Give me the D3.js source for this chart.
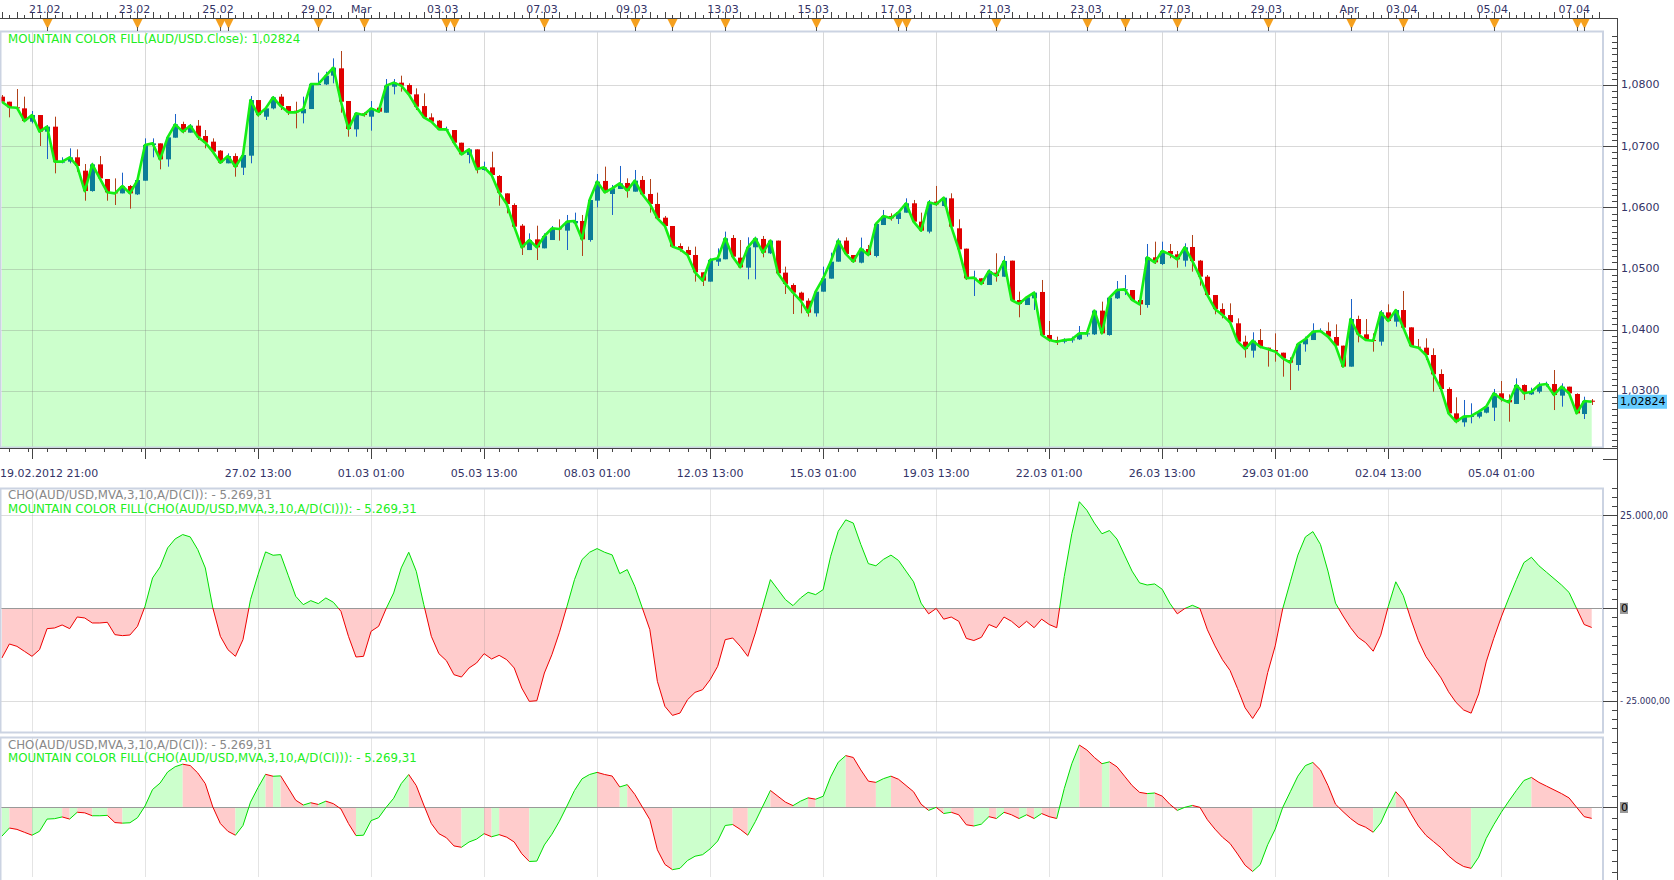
<!DOCTYPE html>
<html><head><meta charset="utf-8">
<script src="https://cdn.jsdelivr.net/npm/d3@7"></script>
<style>
body{margin:0;background:#fff;overflow:hidden;}
svg{display:block;font-family:"DejaVu Sans",Verdana,sans-serif;}
</style></head>
<body><svg id="c" width="1674" height="880"></svg>
<script>
// ---------------- DATA (AUD/USD, 4h bars) ----------------
const opens=[1.07809,1.07727,1.07635,1.07618,1.07400,1.07509,1.07237,1.07319,1.06747,1.06747,
1.06818,1.06600,1.06267,1.06703,1.06464,1.06246,1.06229,1.06349,1.06213,1.06436,
1.07019,1.07046,1.06785,1.07139,1.07362,1.07221,1.07335,1.07166,1.07074,1.06927,
1.06720,1.06839,1.06649,1.06845,1.07754,1.07482,1.07618,1.07809,1.07656,1.07580,
1.07537,1.07607,1.08016,1.08010,1.08152,1.08272,1.07738,1.07275,1.07537,1.07482,
1.07629,1.07547,1.07972,1.08038,1.07999,1.07847,1.07656,1.07471,1.07417,1.07275,
1.07264,1.07057,1.06856,1.06948,1.06611,1.06654,1.06513,1.06229,1.06039,1.05701,
1.05303,1.05478,1.05331,1.05467,1.05658,1.05620,1.05740,1.05778,1.05467,1.06110,
1.06432,1.06219,1.06301,1.06399,1.06257,1.06448,1.06219,1.06056,1.05832,1.05696,
1.05369,1.05304,1.05222,1.04939,1.04787,1.05113,1.05152,1.05500,1.05179,1.05015,
1.05348,1.05484,1.05250,1.05457,1.04934,1.04732,1.04607,1.04476,1.04269,1.04623,
1.04836,1.05113,1.05457,1.05222,1.05097,1.05320,1.05206,1.05712,1.05860,1.05811,
1.05914,1.06067,1.05767,1.05604,1.06094,1.06023,1.06148,1.05658,1.05326,1.04841,
1.04841,1.04732,1.04934,1.04868,1.05130,1.04487,1.04405,1.04514,1.04618,1.03915,
1.03833,1.03806,1.03833,1.03844,1.03942,1.03926,1.04313,1.03915,1.04514,1.04650,
1.04650,1.04487,1.04405,1.05184,1.05075,1.05287,1.05233,1.05130,1.05353,1.05130,
1.04868,1.04568,1.04340,1.04241,1.04106,1.03806,1.03659,1.03833,1.03708,1.03670,
1.03626,1.03507,1.03425,1.03763,1.03833,1.03970,1.03980,1.03882,1.03741,1.03398,
1.04176,1.03926,1.03833,1.03806,1.04285,1.04133,1.04323,1.04040,1.03724,1.03708,
1.03588,1.03278,1.03033,1.02635,1.02488,1.02581,1.02581,1.02646,1.02728,1.02962,
1.02853,1.02788,1.03098,1.02945,1.02989,1.03098,1.03114,1.02924,1.03071,1.02951,
1.02624,1.02842];
const highs=[1.07836,1.07727,1.07934,1.07809,1.07575,1.07509,1.07346,1.07482,1.06818,1.06965,
1.06948,1.06709,1.06730,1.06839,1.06464,1.06474,1.06567,1.06366,1.06458,1.07128,
1.07128,1.07046,1.07144,1.07526,1.07400,1.07362,1.07428,1.07264,1.07128,1.06937,
1.06883,1.06883,1.06856,1.07820,1.07754,1.07618,1.07820,1.07852,1.07656,1.07727,
1.07809,1.08016,1.08201,1.08217,1.08435,1.08555,1.07738,1.07547,1.07553,1.07738,
1.07629,1.08097,1.08097,1.08152,1.08027,1.07945,1.07863,1.07537,1.07428,1.07319,
1.07264,1.07057,1.06965,1.06948,1.06747,1.06910,1.06529,1.06229,1.06066,1.05728,
1.05576,1.05701,1.05576,1.05696,1.05805,1.05876,1.05914,1.05876,1.06132,1.06546,
1.06666,1.06366,1.06677,1.06475,1.06611,1.06513,1.06464,1.06241,1.05860,1.05696,
1.05413,1.05359,1.05359,1.04939,1.05168,1.05331,1.05604,1.05549,1.05467,1.05511,
1.05522,1.05533,1.05467,1.05457,1.05032,1.04759,1.04623,1.04514,1.04650,1.05032,
1.05260,1.05495,1.05511,1.05222,1.05506,1.05386,1.05729,1.05958,1.05903,1.05930,
1.06148,1.06121,1.05914,1.06121,1.06350,1.06148,1.06230,1.05805,1.05326,1.04966,
1.04841,1.04988,1.05250,1.05206,1.05130,1.04623,1.04542,1.04623,1.04814,1.04144,
1.03888,1.03861,1.03888,1.04062,1.03997,1.04313,1.04460,1.04541,1.04797,1.04895,
1.04650,1.04487,1.05402,1.05440,1.05440,1.05402,1.05287,1.05413,1.05549,1.05141,
1.04895,1.04568,1.04432,1.04432,1.04187,1.03904,1.03959,1.04013,1.03708,1.03942,
1.03626,1.03550,1.03779,1.03888,1.04106,1.04024,1.04122,1.04089,1.03741,1.04503,
1.04231,1.04176,1.03942,1.04323,1.04416,1.04323,1.04634,1.04040,1.03850,1.03861,
1.03697,1.03354,1.03060,1.02897,1.02853,1.02799,1.02690,1.02744,1.03033,1.03163,
1.02945,1.03207,1.03109,1.03054,1.03142,1.03152,1.03343,1.03125,1.03071,1.02962,
1.02907,1.02869];
const lows=[1.07727,1.07471,1.07618,1.07400,1.07373,1.07003,1.06790,1.06556,1.06720,1.06720,
1.06583,1.06109,1.06257,1.06447,1.06109,1.06039,1.06229,1.05979,1.06202,1.06436,
1.06818,1.06622,1.06665,1.07139,1.07210,1.07221,1.07101,1.06965,1.06883,1.06720,
1.06720,1.06502,1.06529,1.06720,1.07482,1.07428,1.07602,1.07591,1.07509,1.07291,
1.07373,1.07607,1.07999,1.07999,1.08027,1.07547,1.07155,1.07155,1.07482,1.07253,
1.07547,1.07547,1.07847,1.07891,1.07836,1.07591,1.07455,1.07400,1.07264,1.07253,
1.07046,1.06856,1.06720,1.06556,1.06600,1.06513,1.06028,1.05903,1.05685,1.05222,
1.05303,1.05140,1.05331,1.05467,1.05457,1.05304,1.05729,1.05206,1.05440,1.06001,
1.06230,1.05876,1.06301,1.06159,1.06257,1.06203,1.05914,1.05794,1.05685,1.05348,
1.05277,1.05206,1.04787,1.04716,1.04787,1.05043,1.05152,1.05168,1.05021,1.04825,
1.04825,1.05184,1.05239,1.04912,1.04585,1.04258,1.04269,1.04215,1.04215,1.04623,
1.04836,1.05113,1.05206,1.05097,1.05086,1.05206,1.05184,1.05712,1.05783,1.05729,
1.05914,1.05751,1.05604,1.05576,1.06023,1.06012,1.05658,1.05304,1.04814,1.04552,
1.04732,1.04732,1.04787,1.04868,1.04471,1.04204,1.04405,1.04324,1.03915,1.03806,
1.03752,1.03779,1.03790,1.03833,1.03888,1.03915,1.03932,1.03904,1.04503,1.04568,
1.04470,1.04241,1.04361,1.05075,1.05059,1.05168,1.05015,1.05032,1.04950,1.04721,
1.04558,1.04253,1.04187,1.04106,1.03795,1.03545,1.03545,1.03697,1.03398,1.03479,
1.03234,1.03016,1.03332,1.03643,1.03833,1.03959,1.03861,1.03724,1.03398,1.03398,
1.03795,1.03833,1.03643,1.03741,1.04133,1.04051,1.04035,1.03724,1.03708,1.03507,
1.02989,1.03033,1.02635,1.02472,1.02417,1.02472,1.02553,1.02635,1.02510,1.02826,
1.02499,1.02788,1.02853,1.02935,1.02962,1.03071,1.02689,1.02744,1.02935,1.02624,
1.02542,1.02771];
const closes=[1.07727,1.07635,1.07629,1.07411,1.07509,1.07237,1.07319,1.06747,1.06747,1.06818,
1.06676,1.06267,1.06703,1.06474,1.06246,1.06229,1.06349,1.06229,1.06447,1.07019,
1.07046,1.06785,1.07144,1.07357,1.07237,1.07335,1.07155,1.07057,1.06910,1.06730,
1.06839,1.06665,1.06856,1.07754,1.07509,1.07618,1.07798,1.07656,1.07553,1.07553,
1.07607,1.08016,1.08016,1.08152,1.08283,1.07727,1.07281,1.07537,1.07509,1.07618,
1.07564,1.07989,1.08038,1.07989,1.07847,1.07645,1.07471,1.07400,1.07275,1.07275,
1.07057,1.06867,1.06948,1.06622,1.06654,1.06529,1.06240,1.06055,1.05685,1.05347,
1.05467,1.05347,1.05532,1.05658,1.05647,1.05767,1.05778,1.05478,1.06121,1.06421,
1.06246,1.06312,1.06393,1.06274,1.06437,1.06214,1.06056,1.05821,1.05696,1.05359,
1.05315,1.05222,1.04939,1.04803,1.05141,1.05168,1.05495,1.05195,1.05021,1.05348,
1.05495,1.05260,1.05457,1.04923,1.04749,1.04607,1.04476,1.04280,1.04623,1.04841,
1.05113,1.05457,1.05239,1.05113,1.05326,1.05222,1.05729,1.05860,1.05821,1.05919,
1.06067,1.05767,1.05620,1.06083,1.06050,1.06159,1.05685,1.05315,1.04841,1.04852,
1.04749,1.04961,1.04879,1.05124,1.04487,1.04422,1.04531,1.04607,1.03915,1.03833,
1.03806,1.03833,1.03844,1.03942,1.03942,1.04313,1.03942,1.04525,1.04650,1.04661,
1.04487,1.04416,1.05184,1.05102,1.05287,1.05233,1.05151,1.05348,1.05124,1.04868,
1.04568,1.04340,1.04241,1.04122,1.03806,1.03686,1.03822,1.03724,1.03686,1.03643,
1.03534,1.03463,1.03768,1.03850,1.03970,1.03980,1.03888,1.03741,1.03398,1.04176,
1.03926,1.03833,1.03822,1.04285,1.04144,1.04323,1.04035,1.03735,1.03708,1.03588,
1.03272,1.03033,1.02635,1.02499,1.02581,1.02592,1.02662,1.02744,1.02962,1.02869,
1.02815,1.03098,1.02962,1.02989,1.03098,1.03114,1.02935,1.03071,1.02962,1.02635,
1.02837,1.02824];
// Chaikin oscillator CHO(MVA,3,10,A/D(CI))
const cho=[-13515,-9731,-10362,-11713,-13065,-11263,-5586,-5406,-4595,-5586,
-2433,-2703,-4055,-4055,-3874,-7208,-7478,-7298,-4956,451,
8109,11082,16218,18651,19822,19191,15768,10812,0,-7659,
-11263,-13065,-8560,2253,9010,15137,14236,14416,8830,3154,
901,1982,1171,2703,1532,-901,-7659,-13245,-13065,-6307,
-4956,-180,4055,10812,15047,9911,901,-7659,-12344,-14236,
-18020,-18651,-16218,-14867,-12344,-13785,-12794,-13966,-16218,-21624,
-25228,-25048,-17570,-12614,-6577,451,7659,13065,15047,16038,
15047,14326,9280,10362,5857,0,-5857,-19822,-26580,-29012,
-28382,-24778,-22795,-22075,-19372,-15768,-8560,-8109,-10362,-13065,
-6758,451,7659,4956,2253,631,2703,4235,3604,4956,
13966,20723,23793,22928,17160,11969,11392,13122,14276,12834,
9950,7066,1298,-1586,-144,-3028,-2451,-3605,-8219,-8796,
-7931,-4470,-5335,-2451,-3605,-5335,-3605,-5335,-3028,-4470,
-5335,8508,20044,28696,26389,22928,20044,20909,18602,14276,
9950,6777,6201,6489,5047,1298,-1586,-144,721,-144,
-5912,-10238,-13987,-16871,-21774,-26965,-29849,-26677,-17448,-10238,
-144,7066,14276,19179,20621,17160,9950,1298,-2163,-5335,
-7931,-9373,-11680,-7354,433,7066,3317,-3028,-8796,-13122,
-16006,-18890,-22639,-25523,-27542,-28407,-23216,-14564,-8219,-2451,
2740,7643,12257,13699,11392,9661,7931,6201,4182,-144,
-4470,-5269.31];

// axis labels (positions given as bar index)
const topLabels=["21.02","23.02","25.02","29.02","Mar","03.03","07.03","09.03","13.03","15.03","17.03","21.03","23.03","27.03","29.03","Apr","03.04","05.04","07.04"];
const topLabelIdx=[5.7,17.6,28.7,41.8,47.7,58.5,71.7,83.6,95.7,107.7,118.7,131.8,143.9,155.7,167.8,178.8,185.8,197.8,208.7];
const markerIdx=[6,18,29,30,42,48,59,60,72,84,89,96,108,119,120,132,144,149,156,168,179,186,198,209,210];
const bottomLabels=["27.02 13:00","01.03 01:00","05.03 13:00","08.03 01:00","12.03 13:00","15.03 01:00","19.03 13:00","22.03 01:00","26.03 13:00","29.03 01:00","02.04 13:00","05.04 01:00"];
const bottomLabelIdx=[34,49,64,79,94,109,124,139,154,169,184,199];
const firstLabel="19.02.2012 21:00";
const priceTicks=[1.03,1.04,1.05,1.06,1.07,1.08];
const choTickVals=[25000,0,-25000];
const choTickLabels=["25.000,00","0","- 25.000,00"];
const legendMain="MOUNTAIN COLOR FILL(AUD/USD.Close): 1,02824";
const legendCho1="CHO(AUD/USD,MVA,3,10,A/D(CI)): - 5.269,31";
const legendCho2="MOUNTAIN COLOR FILL(CHO(AUD/USD,MVA,3,10,A/D(CI))): - 5.269,31";
const lastPriceLabel="1,02824";

// ---------------- LAYOUT ----------------
const svg=d3.select('#c');
const N=closes.length;
const plotR=1603, axisX=1617;
const x=d3.scaleLinear().domain([0,N-1]).range([1.86,1591.7]);
const M={top:31,bottom:447}, P1={top:488,bottom:732}, P2={top:737,bottom:877};
const yP=d3.scaleLinear().domain([1.02085,1.08882]).range([M.bottom,M.top]);
const y1=d3.scaleLinear().domain([-33500,32400]).range([P1.bottom,P1.top]);
const y2=d3.scaleLinear().domain([-32410,32410]).range([P2.bottom,P2.top]);
const gridIdx=d3.range(4,N,15);
const txtCol="#333366";
const legFS=11.8;
const defs=svg.append('defs');
function clip(id,y0,y1_){defs.append('clipPath').attr('id',id).append('rect').attr('x',0).attr('y',y0).attr('width',plotR).attr('height',y1_-y0);}
clip('cm',M.top,M.bottom);clip('c1',P1.top,P1.bottom);clip('c2',P2.top,P2.bottom);
clip('c1u',P1.top,y1(0));clip('c1d',y1(0),P1.bottom);

svg.append('rect').attr('width',1674).attr('height',880).attr('fill','#fff');

// ---------- MAIN PANEL ----------
const gm=svg.append('g').attr('clip-path','url(#cm)');
gm.append('path').datum(closes)
  .attr('d',d3.area().x((d,i)=>x(i)).y0(M.bottom).y1(d=>yP(d)))
  .attr('fill','#ccffcc');
gm.selectAll('.hg').data(priceTicks).join('line')
  .attr('x1',0).attr('x2',plotR).attr('y1',d=>Math.round(yP(d))+0.5).attr('y2',d=>Math.round(yP(d))+0.5)
  .attr('stroke','rgba(120,120,120,0.28)');
gm.selectAll('.vg').data(gridIdx).join('line')
  .attr('x1',d=>Math.round(x(d))+0.5).attr('x2',d=>Math.round(x(d))+0.5).attr('y1',M.top).attr('y2',M.bottom)
  .attr('stroke','rgba(120,120,120,0.28)');
const bars=d3.range(N);
gm.selectAll('.wk').data(bars).join('line')
  .attr('x1',i=>Math.round(x(i))+0.5).attr('x2',i=>Math.round(x(i))+0.5)
  .attr('y1',i=>yP(highs[i])).attr('y2',i=>yP(lows[i]))
  .attr('stroke',i=>closes[i]>=opens[i]?'#1a62c8':'#b0421a').attr('stroke-width',1);
gm.selectAll('.bd').data(bars).join('rect')
  .attr('x',i=>Math.round(x(i))-2).attr('width',5)
  .attr('y',i=>yP(Math.max(opens[i],closes[i])))
  .attr('height',i=>Math.max(1,yP(Math.min(opens[i],closes[i]))-yP(Math.max(opens[i],closes[i]))))
  .attr('fill',i=>closes[i]>=opens[i]?'#0b7d98':'#e00000');
gm.append('path').datum(closes)
  .attr('d',d3.line().x((d,i)=>x(i)).y(d=>yP(d)))
  .attr('fill','none').attr('stroke','#14ee14').attr('stroke-width',2.6).attr('stroke-linejoin','round');
svg.append('text').attr('x',8).attr('y',39).attr('dominant-baseline','central')
  .attr('font-size',legFS).attr('fill','#22ee22').text(legendMain);

// ---------- PANEL 1 ----------
const g1=svg.append('g').attr('clip-path','url(#c1)');
const area1=d3.area().x((d,i)=>x(i)).y0(y1(0)).y1(d=>y1(d));
const line1=d3.line().x((d,i)=>x(i)).y(d=>y1(d));
g1.append('path').datum(cho).attr('d',area1).attr('fill','#ccffcc').attr('clip-path','url(#c1u)');
g1.append('path').datum(cho).attr('d',area1).attr('fill','#ffcccc').attr('clip-path','url(#c1d)');
g1.selectAll('.vg').data(gridIdx).join('line')
  .attr('x1',d=>Math.round(x(d))+0.5).attr('x2',d=>Math.round(x(d))+0.5).attr('y1',P1.top).attr('y2',P1.bottom)
  .attr('stroke','rgba(120,120,120,0.2)');
g1.selectAll('.hg').data([25000,-25000]).join('line')
  .attr('x1',0).attr('x2',plotR).attr('y1',d=>Math.round(y1(d))+0.5).attr('y2',d=>Math.round(y1(d))+0.5)
  .attr('stroke','rgba(120,120,120,0.25)');
g1.append('line').attr('x1',0).attr('x2',plotR).attr('y1',Math.round(y1(0))+0.5).attr('y2',Math.round(y1(0))+0.5).attr('stroke','#999');
g1.append('path').datum(cho).attr('d',line1).attr('fill','none').attr('stroke','#00dd00').attr('clip-path','url(#c1u)');
g1.append('path').datum(cho).attr('d',line1).attr('fill','none').attr('stroke','#ee0000').attr('clip-path','url(#c1d)');
svg.append('text').attr('x',8).attr('y',495).attr('dominant-baseline','central').attr('font-size',legFS).attr('fill','#888').text(legendCho1);
svg.append('text').attr('x',8).attr('y',509).attr('dominant-baseline','central').attr('font-size',legFS).attr('fill','#22ee22').text(legendCho2);

// ---------- PANEL 2 ----------
const g2=svg.append('g').attr('clip-path','url(#c2)');
const z2=y2(0);
const runs=[];
for(let i=0;i<N-1;i++){
  const up=cho[i+1]>=cho[i];
  if(runs.length&&runs[runs.length-1].up===up) runs[runs.length-1].end=i+1;
  else runs.push({up:up,start:i,end:i+1});
}
const area2=d3.area().x(i=>x(i)).y0(z2).y1(i=>y2(cho[i]));
const line2=d3.line().x(i=>x(i)).y(i=>y2(cho[i]));
runs.forEach(r=>{
  g2.append('path').attr('d',area2(d3.range(r.start,r.end+1))).attr('fill',r.up?'#ccffcc':'#ffcccc');
});
g2.selectAll('.vg').data(gridIdx).join('line')
  .attr('x1',d=>Math.round(x(d))+0.5).attr('x2',d=>Math.round(x(d))+0.5).attr('y1',P2.top).attr('y2',P2.bottom)
  .attr('stroke','rgba(120,120,120,0.2)');
g2.append('line').attr('x1',0).attr('x2',plotR).attr('y1',Math.round(z2)+0.5).attr('y2',Math.round(z2)+0.5).attr('stroke','#999');
runs.forEach(r=>{
  g2.append('path').attr('d',line2(d3.range(r.start,r.end+1))).attr('fill','none').attr('stroke',r.up?'#00dd00':'#ee0000');
});
svg.append('text').attr('x',8).attr('y',745).attr('dominant-baseline','central').attr('font-size',legFS).attr('fill','#888').text(legendCho1);
svg.append('text').attr('x',8).attr('y',758).attr('dominant-baseline','central').attr('font-size',legFS).attr('fill','#22ee22').text(legendCho2);

// ---------- PANEL BORDERS ----------
[[M.top,M.bottom],[P1.top,P1.bottom],[P2.top,P2.bottom+6]].forEach(p=>{
  svg.append('rect').attr('x',0.5).attr('y',p[0]+0.5).attr('width',plotR-0.5).attr('height',p[1]-p[0])
    .attr('fill','none').attr('stroke','#cbd3e2').attr('stroke-width',2);
});

// ---------- TOP AXIS ----------
const ax=svg.append('g').attr('stroke','#444').attr('shape-rendering','crispEdges');
ax.append('line').attr('x1',0).attr('x2',axisX).attr('y1',18.5).attr('y2',18.5);
ax.selectAll('.tt').data(d3.range(0,N+1)).join('line')
  .attr('x1',i=>Math.round(x(i))+0.5).attr('x2',i=>Math.round(x(i))+0.5)
  .attr('y1',18).attr('y2',i=>i%2===0?12:15);
svg.selectAll('.mk').data(markerIdx).join('path')
  .attr('d',i=>{const c=Math.round(x(i))+0.5;return `M${c-5},19L${c+5},19L${c},29Z`;})
  .attr('fill','#f5a01e');
svg.selectAll('.mkl').data(markerIdx).join('line')
  .attr('x1',i=>Math.round(x(i))+0.5).attr('x2',i=>Math.round(x(i))+0.5).attr('y1',27).attr('y2',31)
  .attr('stroke','#555');
svg.selectAll('.tl').data(topLabels).join('text')
  .attr('x',(d,i)=>x(topLabelIdx[i])).attr('y',9).attr('text-anchor','middle').attr('dominant-baseline','central')
  .attr('font-size',11).attr('fill',txtCol).text(d=>d);

// ---------- RIGHT AXIS ----------
ax.append('line').attr('x1',axisX+0.5).attr('x2',axisX+0.5).attr('y1',18).attr('y2',880);
const minorP=d3.range(1021,1089).map(v=>v/1000);
ax.selectAll('.pm').data(minorP).join('line')
  .attr('x1',axisX-5).attr('x2',axisX).attr('y1',d=>Math.round(yP(d))+0.5).attr('y2',d=>Math.round(yP(d))+0.5);
ax.selectAll('.pM').data(priceTicks).join('line')
  .attr('x1',axisX-14).attr('x2',axisX).attr('y1',d=>Math.round(yP(d))+0.5).attr('y2',d=>Math.round(yP(d))+0.5);
svg.selectAll('.pl').data(priceTicks).join('text')
  .attr('x',axisX+4).attr('y',d=>yP(d)).attr('dominant-baseline','central').attr('font-size',11).attr('fill',txtCol)
  .text(d=>d3.format('.4f')(d).replace('.',','));
const lp=yP(closes[N-1]);
svg.append('rect').attr('x',axisX+1).attr('y',lp-7).attr('width',49).attr('height',14).attr('fill','#66ccff');
svg.append('text').attr('x',axisX+3).attr('y',lp).attr('dominant-baseline','central').attr('font-size',11).attr('fill','#000').text(lastPriceLabel);
// corner segment where time axis meets the price axis
ax.append('line').attr('x1',plotR).attr('x2',axisX).attr('y1',459.5).attr('y2',459.5);

// panel 1 axis
ax.selectAll('.c1m').data(d3.range(-32500,32501,2500)).join('line')
  .attr('x1',d=>d%25000===0?axisX-14:axisX-5).attr('x2',axisX).attr('y1',d=>Math.round(y1(d))+0.5).attr('y2',d=>Math.round(y1(d))+0.5);
choTickVals.forEach((v,i)=>{
  if(v===0){
    svg.append('rect').attr('x',axisX+3).attr('y',y1(0)-5).attr('width',8).attr('height',11).attr('fill','#999');
    svg.append('text').attr('x',axisX+4).attr('y',y1(0)+0.5).attr('dominant-baseline','central').attr('font-size',11).attr('fill','#000').text(choTickLabels[i]);
  } else {
    svg.append('text').attr('x',axisX+3).attr('y',y1(v)).attr('dominant-baseline','central')
      .attr('font-size',v<0?8.4:10).attr('fill',txtCol)
      .attr('textLength',v<0?50:48).attr('lengthAdjust','spacingAndGlyphs').text(choTickLabels[i]);
  }
});
// panel 2 axis
ax.selectAll('.c2m').data(d3.range(-30000,30001,5000)).join('line')
  .attr('x1',d=>d===0?axisX-14:axisX-5).attr('x2',axisX).attr('y1',d=>Math.round(y2(d))+0.5).attr('y2',d=>Math.round(y2(d))+0.5);
svg.append('rect').attr('x',axisX+3).attr('y',z2-5).attr('width',8).attr('height',11).attr('fill','#999');
svg.append('text').attr('x',axisX+4).attr('y',z2+0.5).attr('dominant-baseline','central').attr('font-size',11).attr('fill','#000').text('0');

// ---------- BOTTOM TIME AXIS ----------
ax.append('line').attr('x1',0).attr('x2',axisX).attr('y1',448.5).attr('y2',448.5);
const minorT=d3.range(-1.5,N,2.5);
ax.selectAll('.bm').data(minorT).join('line')
  .attr('x1',d=>Math.round(x(d))+0.5).attr('x2',d=>Math.round(x(d))+0.5).attr('y1',448).attr('y2',452);
ax.selectAll('.bM').data(gridIdx).join('line')
  .attr('x1',d=>Math.round(x(d))+0.5).attr('x2',d=>Math.round(x(d))+0.5).attr('y1',448).attr('y2',459);
svg.append('text').attr('x',0).attr('y',473).attr('dominant-baseline','central').attr('font-size',11).attr('fill',txtCol).text(firstLabel);
svg.selectAll('.bl').data(bottomLabels).join('text')
  .attr('x',(d,i)=>x(bottomLabelIdx[i])).attr('y',473).attr('text-anchor','middle').attr('dominant-baseline','central')
  .attr('font-size',11).attr('fill',txtCol).text(d=>d);
</script>
</body></html>
